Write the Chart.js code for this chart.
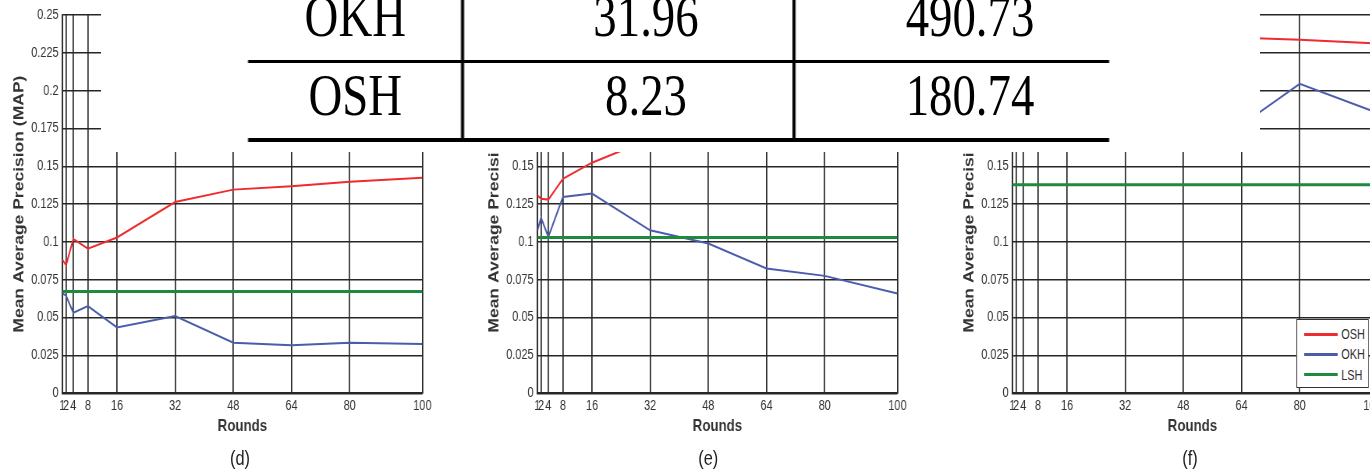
<!DOCTYPE html>
<html>
<head>
<meta charset="utf-8">
<script src="https://cdn.jsdelivr.net/npm/chart.js@4.4.1/dist/chart.umd.min.js"></script>
<style>
html,body{margin:0;padding:0;background:#fff;overflow:hidden;width:1370px;height:471px;}
#stage{position:absolute;left:0;top:0;width:1757px;height:471px;transform:scaleX(0.78);transform-origin:0 0;}
canvas.cv{position:absolute;top:0;}
.sub{position:absolute;font:21px "Liberation Sans",Arial,sans-serif;color:#222;transform:translate(-50%,-50%);white-space:nowrap;line-height:1;}
#cover{position:absolute;left:130px;top:0;width:1485.5px;height:151.5px;background:#fff;z-index:5;}
.ln{position:absolute;background:#000;}
.tt{position:absolute;font:60px "Liberation Serif","Times New Roman",serif;color:#000;white-space:nowrap;transform:translateX(-50%);line-height:60px;}
#legend{position:absolute;left:1661.5px;top:319px;width:91px;height:66.5px;border:1.5px solid #333;background:#fff;z-index:3;}
.lgrow{position:absolute;left:0;width:100%;height:20px;}
.lgline{position:absolute;left:9px;width:43px;height:3px;top:8.5px;}
.lgtxt{position:absolute;left:57px;top:0;font:14px "Liberation Sans",Arial,sans-serif;color:#333;line-height:20px;}
</style>
</head>
<body>
<div id="stage">
  <canvas class="cv" id="cd" width="557" height="471"></canvas>
  <canvas class="cv" id="ce" width="557" height="471"></canvas>
  <canvas class="cv" id="cf" width="557" height="471"></canvas>
  <div id="cover"></div>
  <div id="legend"></div>
</div>
<script>
// ---- data ----
const X_VALUES = [1, 2, 4, 8, 16, 32, 48, 64, 80, 100];
const X_TICKS = [1, 2, 4, 8, 16, 32, 48, 64, 80, 100];
const Y_TICKS = [0, 0.025, 0.05, 0.075, 0.1, 0.125, 0.15, 0.175, 0.2, 0.225, 0.25];
const Y_TICK_LABELS = ['0', '0.025', '0.05', '0.075', '0.1', '0.125', '0.15', '0.175', '0.2', '0.225', '0.25'];
const SERIES_NAMES = ['OSH', 'OKH', 'LSH'];
const PANEL_LABELS = ['(d)', '(e)', '(f)'];
const X_TITLE = 'Rounds';
const Y_TITLE = 'Mean Average Precision (MAP)';

const OSH_D = [0.0884, 0.0846, 0.102, 0.0956, 0.103, 0.1264, 0.1346, 0.1368, 0.1398, 0.1425];
const OKH_D = [0.066, 0.0645, 0.0532, 0.0576, 0.0435, 0.051, 0.0334, 0.0317, 0.0334, 0.0325];
const LSH_D = [0.0673, 0.0673, 0.0673, 0.0673, 0.0673, 0.0673, 0.0673, 0.0673, 0.0673, 0.0673];

const OSH_E = [0.1308, 0.1286, 0.128, 0.1418, 0.1524, 0.168, 0.175, 0.179, 0.183, 0.186];
const OKH_E = [0.1077, 0.116, 0.1033, 0.1297, 0.132, 0.1077, 0.099, 0.0825, 0.0776, 0.066];
const LSH_E = [0.1029, 0.1029, 0.1029, 0.1029, 0.1029, 0.1029, 0.1029, 0.1029, 0.1029, 0.1029];

const OSH_F = [0.19, 0.2, 0.205, 0.212, 0.22, 0.227, 0.232, 0.235, 0.2336, 0.2313];
const OKH_F = [0.175, 0.18, 0.172, 0.185, 0.19, 0.182, 0.178, 0.1773, 0.2045, 0.1866];
const LSH_F = [0.1379, 0.1379, 0.1379, 0.1379, 0.1379, 0.1379, 0.1379, 0.1379, 0.1379, 0.1379];

// table overlay text
const TABLE_ROW1 = ['OKH', '31.96', '490.73'];
const TABLE_ROW2 = ['OSH', '8.23', '180.74'];

// ---- styling / layout ----
const COLORS = ['#ee2b2e', '#4a5cab', '#1e8a3e'];
const WIDTHS = [2, 2, 3];
const GRID = '#262626';
const FONT = '"Liberation Sans", Arial, Helvetica, sans-serif';
const PLOT_LEFT = [80.1, 688.5, 1298.3];
const YAXIS_W = 75;
const SUB_POS = [307.7, 908, 1525.6];

function pts(arr) { return X_VALUES.map((x, i) => ({ x: x, y: arr[i] })); }

function makeChart(id, idx, series) {
  const cv = document.getElementById(id);
  cv.style.left = (PLOT_LEFT[idx] - YAXIS_W) + 'px';
  return new Chart(cv, {
    type: 'line',
    data: {
      datasets: series.map((s, k) => ({
        label: SERIES_NAMES[k],
        data: pts(s),
        borderColor: COLORS[k],
        backgroundColor: COLORS[k],
        borderWidth: WIDTHS[k],
        pointRadius: 0,
        tension: 0,
        fill: false
      })).reverse()
    },
    options: {
      responsive: false,
      animation: false,
      devicePixelRatio: 1,
      layout: { padding: { top: 15, right: 20.5, bottom: 0, left: 0 } },
      plugins: { legend: { display: false }, tooltip: { enabled: false } },
      scales: {
        x: {
          type: 'linear', min: 1, max: 100,
          afterBuildTicks: s => { s.ticks = X_TICKS.map(v => ({ value: v })); },
          afterFit: s => { s.height = 77.7; },
          ticks: { autoSkip: false, maxRotation: 0, padding: 4, color: '#333',
                   font: { family: FONT, size: 14 }, callback: v => String(v) },
          grid: { color: GRID, lineWidth: 1.7, drawTicks: false },
          border: { display: true, color: GRID, width: 1.7 },
          title: { display: true, text: X_TITLE, color: '#333',
                   font: { family: FONT, size: 17, weight: 'bold' }, padding: { top: 0, bottom: 34 } }
        },
        y: {
          min: 0, max: 0.25,
          afterBuildTicks: s => { s.ticks = Y_TICKS.map(v => ({ value: v })); },
          afterFit: s => { s.width = YAXIS_W; },
          ticks: { padding: 5, color: '#333', font: { family: FONT, size: 14 },
                   callback: (v, i) => Y_TICK_LABELS[i] },
          grid: { color: GRID, lineWidth: 1.5, drawTicks: false },
          border: { display: true, color: GRID, width: 1.7 },
          title: { display: true, text: Y_TITLE, color: '#333',
                   font: { family: FONT, size: 17.5, weight: 'bold' }, padding: { top: 9.8, bottom: 0 } }
        }
      }
    }
  });
}

makeChart('cd', 0, [OSH_D, OKH_D, LSH_D]);
makeChart('ce', 1, [OSH_E, OKH_E, LSH_E]);
makeChart('cf', 2, [OSH_F, OKH_F, LSH_F]);

const stage = document.getElementById('stage');
// panel labels
PANEL_LABELS.forEach((t, i) => {
  const d = document.createElement('div');
  d.className = 'sub'; d.textContent = t;
  d.style.left = SUB_POS[i] + 'px'; d.style.top = '456.7px';
  stage.appendChild(d);
});

// table overlay
const cover = document.getElementById('cover');
function line(l, t, w, h) {
  const d = document.createElement('div'); d.className = 'ln';
  d.style.left = (l - 130) + 'px'; d.style.top = t + 'px';
  d.style.width = w + 'px'; d.style.height = h + 'px';
  cover.appendChild(d);
}
line(318.3, 59.5, 1103.5, 3);
line(318.3, 137.5, 1103.5, 4);
line(591.3, 0, 3.85, 141.5);
line(1016.4, 0, 3.85, 141.5);
const COL_X = [455.5, 828.2, 1243.6];
function rowText(arr, baseline) {
  arr.forEach((t, i) => {
    const d = document.createElement('div'); d.className = 'tt'; d.textContent = t;
    d.style.left = (COL_X[i] - 130) + 'px';
    d.style.top = (baseline - 50.3) + 'px';
    cover.appendChild(d);
  });
}
rowText(TABLE_ROW1, 36.7);
rowText(TABLE_ROW2, 115);

// legend
const lg = document.getElementById('legend');
SERIES_NAMES.forEach((n, k) => {
  const r = document.createElement('div'); r.className = 'lgrow';
  r.style.top = (4 + k * 20.3) + 'px';
  const l = document.createElement('div'); l.className = 'lgline'; l.style.background = COLORS[k];
  const t = document.createElement('div'); t.className = 'lgtxt'; t.textContent = n;
  r.appendChild(l); r.appendChild(t); lg.appendChild(r);
});
</script>
</body>
</html>
